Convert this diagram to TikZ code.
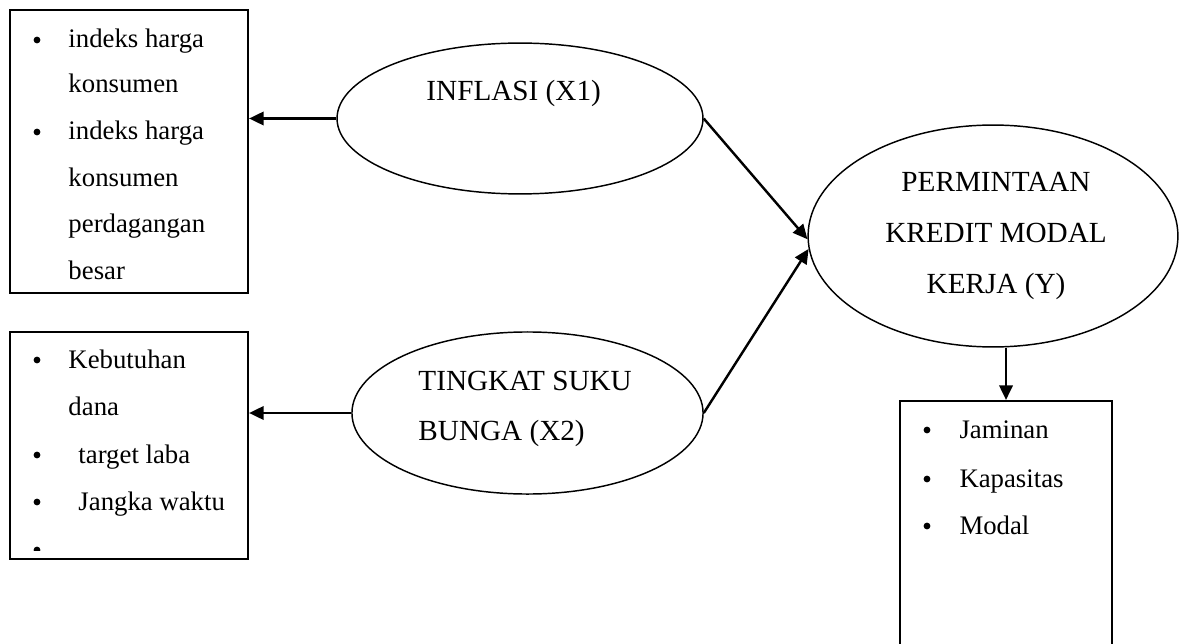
\documentclass[tikz,border=0pt]{standalone}
\usepackage{fontspec}
\setmainfont{Liberation Serif}
\usetikzlibrary{shapes.geometric,arrows.meta}

\begin{document}
\begin{tikzpicture}[x=0.411pt,y=-0.411pt,
  var/.style={draw,ellipse,line width=0.6pt,inner sep=0pt},
  indbox/.style={draw,rectangle,line width=0.9pt,inner sep=0pt},
  arr/.style={line width=1pt,-{Triangle[length=6pt,width=5.5pt]}},
  itm/.style={anchor=base west,inner sep=0pt,font=\fontsize{11}{13}\selectfont},
  bul/.style={circle,fill,inner sep=0pt,minimum size=2.8pt},
  lbl/.style={inner sep=0pt,font=\fontsize{12}{14}\selectfont}]
\useasboundingbox (0,0) rectangle (1179,644);
\clip (0,0) rectangle (1179,644);

% variables
\node[var,minimum width=150.4pt,minimum height=62pt] (x1) at (520,118.5) {};
\node[var,minimum width=144.3pt,minimum height=66.6pt] (x2) at (527.5,413) {};
\node[var,minimum width=152pt,minimum height=91.2pt] (y) at (993,236) {};

\node[lbl,anchor=base west] (x1a) at (426,101) {INFLASI (X1)};
\node[lbl,anchor=base west] (x2a) at (418,390) {TINGKAT SUKU};
\node[lbl,anchor=base west] (x2b) at (418,440) {BUNGA (X2)};
\node[lbl,anchor=base] (ya) at (996,192) {PERMINTAAN};
\node[lbl,anchor=base] (yb) at (996,243) {KREDIT MODAL};
\node[lbl,anchor=base] (yc) at (996,293) {KERJA (Y)};

% indicator boxes
\node[indbox,minimum width=97.8pt,minimum height=116.3pt] (ind1) at (129,151.5) {};
\node[indbox,minimum width=97.8pt,minimum height=93.3pt] (ind2) at (129,445.5) {};
\node[indbox,minimum width=87.1pt,minimum height=106.4pt] (ind3) at (1006,530.5) {};

% box 1
\node[bul] (b11) at (37,40) {};
\node[itm] (t11) at (68,48) {indeks harga};
\node[itm] (t12) at (68,93) {konsumen};
\node[bul] (b12) at (37,132) {};
\node[itm] (t13) at (68,140) {indeks harga};
\node[itm] (t14) at (68,187) {konsumen};
\node[itm] (t15) at (68,233) {perdagangan};
\node[itm] (t16) at (68,279) {besar};

% box 2
\node[bul] (b21) at (37,360) {};
\node[itm] (t21) at (68,368) {Kebutuhan};
\node[itm] (t22) at (68,415) {dana};
\node[bul] (b22) at (37,455) {};
\node[itm] (t23) at (78,463) {target laba};
\node[bul] (b23) at (37,502) {};
\node[itm] (t24) at (78,510) {Jangka waktu};
\begin{scope}
\clip (12,530) rectangle (246,550);
\node[bul] (b24) at (37,550) {};
\end{scope}

% box 3
\node[bul] (b31) at (927,430) {};
\node[itm] (t31) at (959,438) {Jaminan};
\node[bul] (b32) at (927,479) {};
\node[itm] (t32) at (959,487) {Kapasitas};
\node[bul] (b33) at (927,526) {};
\node[itm] (t33) at (959,534) {Modal};

% arrows
\draw[arr] (x1.west) -- (ind1.east |- x1.west);
\draw[arr] (x2.west) -- (ind2.east |- x2.west);
\draw[arr] (x1.east) -- (y.181);
\draw[arr] (x2.east) -- (y.184);
\draw[arr] (ind3.north |- y.south) -- (ind3.north);

\end{tikzpicture}
\end{document}
